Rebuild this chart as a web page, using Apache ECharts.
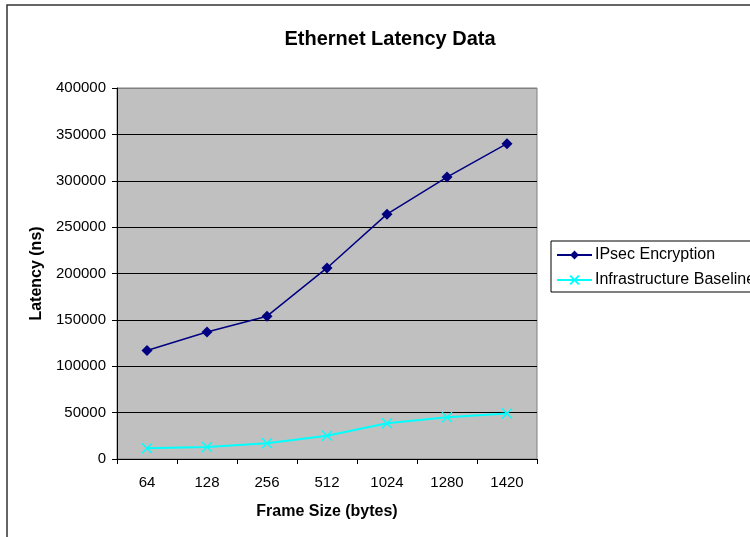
<!DOCTYPE html>
<html>
<head>
<meta charset="utf-8">
<title>Ethernet Latency Data</title>
<script src="https://cdn.jsdelivr.net/npm/echarts@6/dist/echarts.min.js"></script>
<style>
  html, body { margin: 0; padding: 0; background: #fff; }
  #chart { width: 750px; height: 537px; }
</style>
</head>
<body>
<div id="chart"></div>
<script>
// Frame sizes (bytes) on the category axis
const frameSizes = ['64', '128', '256', '512', '1024', '1280', '1420'];
// Latency in nanoseconds
const ipsecEncryption = [117000, 137000, 154000, 206000, 264000, 304000, 340000];
const infrastructureBaseline = [11500, 13000, 17000, 25000, 38500, 45000, 49000];
const seriesNames = ['IPsec Encryption', 'Infrastructure Baseline'];

const FONT = '"Liberation Sans", Arial, sans-serif';
const crossPath = 'path://M0,0L10,10M10,0L0,10';

const chart = echarts.init(document.getElementById('chart'), null, { renderer: 'canvas' });

chart.setOption({
  backgroundColor: '#ffffff',
  animation: false,
  textStyle: { fontFamily: FONT, color: '#000' },
  title: {
    text: 'Ethernet Latency Data',
    left: 385,
    textAlign: 'center',
    top: 24,
    textStyle: { fontFamily: FONT, fontSize: 20, fontWeight: 'bold', color: '#000' }
  },
  graphic: [{
    type: 'rect',
    shape: { x: 7, y: 5, width: 800, height: 600 },
    style: { fill: 'none', stroke: '#333', lineWidth: 1.5 },
    silent: true,
    z: -1
  }],
  legend: {
    orient: 'vertical',
    left: 551,
    top: 241,
    padding: [6, 5, 4, 5],
    itemGap: 9,
    itemWidth: 35,
    itemHeight: 11,
    borderColor: '#000',
    borderWidth: 1,
    backgroundColor: '#fff',
    textStyle: { fontFamily: FONT, fontSize: 16, color: '#000', padding: [0, 0, 0, -2] },
    data: seriesNames
  },
  grid: {
    left: 117,
    top: 88,
    width: 420,
    height: 371,
    show: true,
    backgroundColor: '#C0C0C0',
    borderColor: '#808080',
    borderWidth: 1
  },
  xAxis: {
    type: 'category',
    data: frameSizes,
    boundaryGap: true,
    name: 'Frame Size (bytes)',
    nameLocation: 'middle',
    nameGap: 45,
    nameTextStyle: { fontFamily: FONT, fontSize: 16, fontWeight: 'bold', color: '#000' },
    axisLine: { show: true, lineStyle: { color: '#000', width: 1 } },
    axisTick: { show: true, alignWithLabel: false, inside: false, length: 5, lineStyle: { color: '#000' } },
    axisLabel: { fontFamily: FONT, fontSize: 15, color: '#000', margin: 16 },
    splitLine: { show: false }
  },
  yAxis: {
    type: 'value',
    min: 0,
    max: 400000,
    interval: 50000,
    name: 'Latency (ns)',
    nameLocation: 'middle',
    nameGap: 70,
    nameTextStyle: { fontFamily: FONT, fontSize: 16, fontWeight: 'bold', color: '#000' },
    axisLine: { show: true, lineStyle: { color: '#000', width: 1 } },
    axisTick: { show: true, inside: false, length: 5, lineStyle: { color: '#000' } },
    axisLabel: {
      fontFamily: FONT, fontSize: 15, color: '#000', margin: 11,
      formatter: (v) => String(v)
    },
    splitLine: {
      show: true,
      lineStyle: {
        color: ['#000', '#000', '#000', '#000', '#000', '#000', '#000', '#000', '#808080'],
        width: 1
      }
    }
  },
  series: [
    {
      name: seriesNames[0],
      type: 'line',
      data: ipsecEncryption,
      symbol: 'diamond',
      symbolSize: 11,
      lineStyle: { color: '#000080', width: 1.5 },
      itemStyle: { color: '#000080' }
    },
    {
      name: seriesNames[1],
      type: 'line',
      data: infrastructureBaseline,
      symbol: crossPath,
      symbolSize: 10,
      lineStyle: { color: '#00FFFF', width: 2 },
      itemStyle: { color: '#00FFFF', borderColor: '#00FFFF', borderWidth: 1.5 }
    }
  ]
});
</script>
</body>
</html>
